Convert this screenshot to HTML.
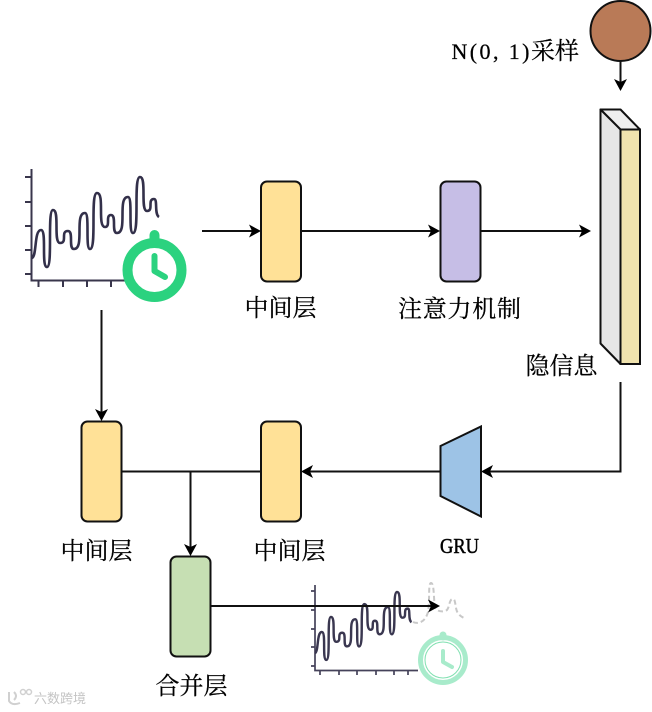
<!DOCTYPE html>
<html><head><meta charset="utf-8"><style>
html,body{margin:0;padding:0;background:#fff}
svg{display:block}
text{font-family:"Liberation Serif","Noto Serif CJK SC",serif;font-size:24px;fill:#000;text-anchor:middle;stroke:#000;stroke-width:.25}
.b{stroke:#111;stroke-width:2}
.l{stroke:#111;stroke-width:2;fill:none}
.ax{stroke:#39364c;stroke-width:2;fill:none}
.ax2{stroke:#45425a;stroke-width:1.7;fill:none}
</style></head><body>
<svg width="652" height="712" viewBox="0 0 652 712" xmlns="http://www.w3.org/2000/svg">
<defs>
<path id="curve" d="M32 258C37 256 34 230 41 230C47 230 41 267 47 267C53 267 47 210 53 210C60 210 53 243 60 243C68 243 60 231 68 231C74 231 68 249 74 249C85 249 74 213 85 213C90 213 85 249 90 249C97 249 90 193 97 193C105 193 97 227 105 227C111 227 105 215 111 215C117 215 111 233 117 233C128 233 117 197 128 197C133 197 128 233 133 233C140 233 133 177 140 177C147 177 140 211 147 211C154 211 147 199 154 199C158 199 154 214 159 217"/>
<path id="ah" d="M0 0L-12 -6.500L-9 0L-12 6.500Z" fill="#000"/>
</defs>

<!-- chart 1 -->
<path class="ax" d="M31.500 169V280.500H125M25 177H31M25 202H31M25 226H31M25 250H31M25 274H31M38.500 281V287M63 281V287M87 281V287M111 281V287"/>
<use href="#curve" fill="none" stroke="#33304a" stroke-width="2.600"/>
<g fill="none" stroke="#2bd27f" stroke-linecap="round">
<circle cx="154.500" cy="270" r="27" fill="#fff" stroke-width="10"/>
<path d="M154.500 235V240" stroke-width="10"/>
<path d="M154.500 256V271L165 277" stroke-width="6" stroke-linejoin="round"/>
</g>

<!-- chart 2 -->
<path class="ax2" d="M315 585V670.500H418M311 591H315M311 610H315M311 629H315M311 647H315M311 666H315M320 671V675M339 671V675M357 671V675M376 671V675M394 671V675M408 671V675"/>
<g transform="translate(315 592) scale(.76 .755) translate(-32 -177)"><use href="#curve" fill="none" stroke="#3a3750" stroke-width="3.200"/></g>
<path d="M413 622C420 625 426 620 428 612C430 600 428 583 431 583C435 583 433 606 436 609C439 612 444 612 447 610C450 606 449 599 453 599C456 599 455 610 458 613C460 616 462 617 464 618" fill="none" stroke="#c8c8c8" stroke-width="2" stroke-dasharray="5 3"/>
<g fill="none" stroke="#a8ebcb" stroke-linecap="round">
<circle cx="443" cy="660" r="22.500" fill="#fff" stroke-width="5"/>
<circle cx="443" cy="660" r="18" stroke="#7fe0b0" stroke-width="1"/>
<path d="M443 635V637" stroke-width="7"/>
<path d="M443 651V662L452 667" stroke-width="4" stroke-linejoin="round"/>
</g>

<!-- connectors -->
<path class="l" d="M202 231H252"/><use href="#ah" transform="translate(261 231)"/>
<path class="l" d="M301 231H432"/><use href="#ah" transform="translate(440 231)"/>
<path class="l" d="M481 231H582"/><use href="#ah" transform="translate(591 231)"/>
<path class="l" d="M620.500 61V82"/><use href="#ah" transform="translate(620.500 91) rotate(90)"/>
<path class="l" d="M620.500 382V471.500H490"/><use href="#ah" transform="translate(481 471.500) rotate(180)"/>
<path class="l" d="M440 471.500H310"/><use href="#ah" transform="translate(301 471.500) rotate(180)"/>
<path class="l" d="M121 471.500H261"/>
<path class="l" d="M190.500 471V547"/><use href="#ah" transform="translate(190.500 556) rotate(90)"/>
<path class="l" d="M101.500 310V412"/><use href="#ah" transform="translate(101.500 421) rotate(90)"/>

<!-- boxes -->
<rect class="b" x="261" y="181.500" width="40" height="100" rx="6" fill="#ffe197"/>
<rect class="b" x="440.500" y="181.500" width="40" height="100" rx="6" fill="#c6bee6"/>
<rect class="b" x="81.500" y="421.500" width="40" height="100" rx="6" fill="#ffe197"/>
<rect class="b" x="261" y="421.500" width="40" height="100" rx="6" fill="#ffe197"/>
<rect class="b" x="170.500" y="556.500" width="40" height="100" rx="6" fill="#c6dfb3"/>
<path class="b" d="M440.500 446L481 426.500V516.500L440.500 496Z" fill="#9dc3e6"/>
<path class="l" d="M211 606H431"/><use href="#ah" transform="translate(440 606)"/>

<!-- cuboid -->
<path class="b" d="M600.500 109.500H620.500L640 129.500H620.500Z" fill="#eeeeee" stroke-linejoin="round"/>
<path class="b" d="M600.500 109.500L620.500 129.500V364L600.500 343.500Z" fill="#e6e6e6" stroke-linejoin="round"/>
<rect class="b" x="620.500" y="129.500" width="19.500" height="234.500" fill="#f0e3ae"/>

<!-- sphere -->
<circle cx="620.500" cy="31" r="30" fill="#b97a57" stroke="#111" stroke-width="2"/>

<!-- labels -->
<text x="280.500" y="316">中间层</text>
<text x="459.500" y="317" textLength="123" lengthAdjust="spacing">注意力机制</text>
<text x="561.500" y="374">隐信息</text>
<text x="96.500" y="559">中间层</text>
<text x="289.500" y="559">中间层</text>
<text x="191.500" y="694">合并层</text>
<text x="459.500" y="553" style="font-size:21px;stroke-width:.5" textLength="39" lengthAdjust="spacingAndGlyphs">GRU</text>
<text x="490.500" y="59" style="font-family:'Liberation Serif',serif;font-size:22px" textLength="78" lengthAdjust="spacing">N(0, 1)</text>
<text x="555" y="59">采样</text>
<text x="60" y="703" style="font-size:13px;fill:#c4c4c4;stroke:none;font-family:'Liberation Sans','Noto Sans CJK SC',sans-serif">六数跨境</text>
<path d="M9 692V701Q12 706 20 703M14 692Q18 696 14 700" fill="none" stroke="#d0d0d0" stroke-width="2"/>
<circle cx="23" cy="692" r="2.500" fill="none" stroke="#d0d0d0" stroke-width="1.500"/>
<circle cx="29" cy="692" r="2.500" fill="none" stroke="#d0d0d0" stroke-width="1.500"/>
</svg>
</body></html>
